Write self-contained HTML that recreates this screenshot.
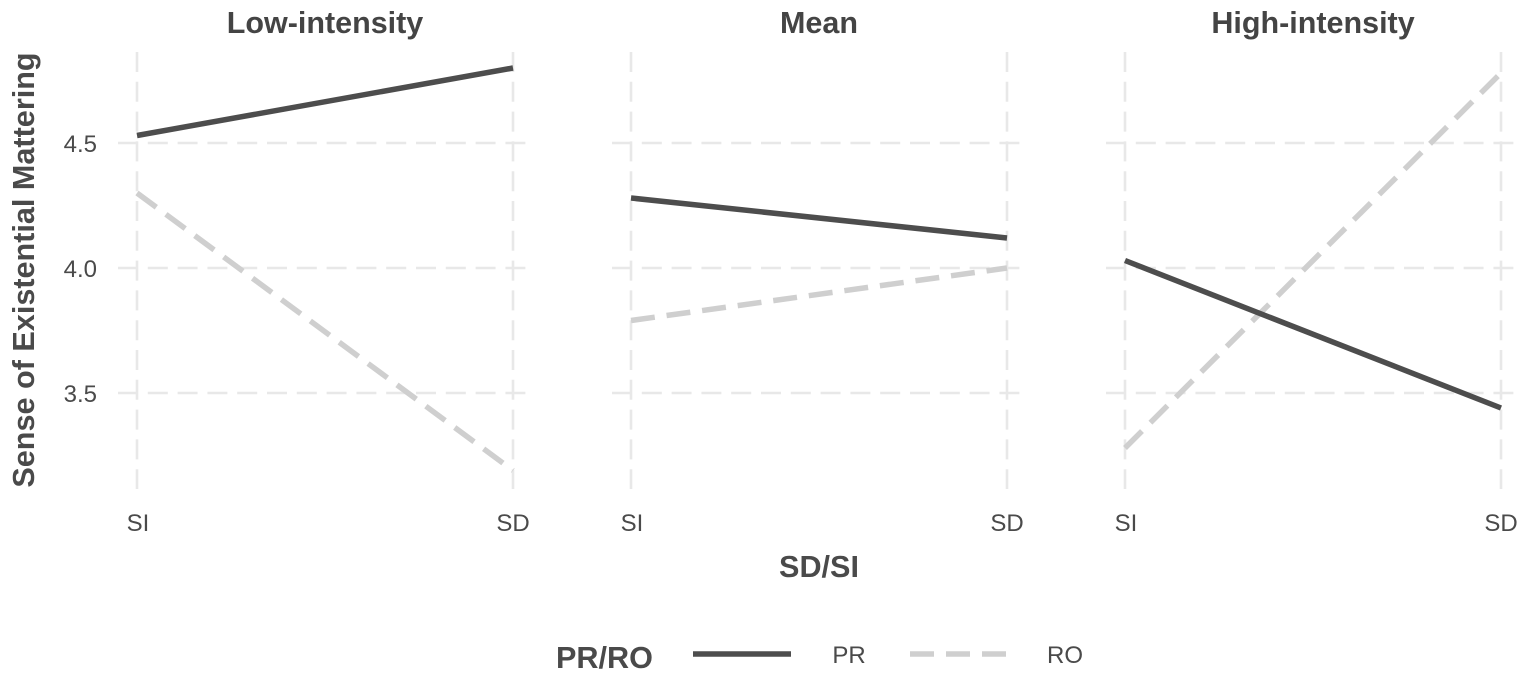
<!DOCTYPE html>
<html lang="en">
<head>
<meta charset="utf-8">
<title>Sense of Existential Mattering by SD/SI</title>
<style>
html,body{margin:0;padding:0;background:#fff;width:1535px;height:681px;overflow:hidden}
svg{display:block}
text{font-family:"Liberation Sans",sans-serif;fill:#4a4a4a}
.tick{font-size:24px}
.strip{font-size:30.5px;font-weight:bold;fill:#444}
.axt{font-size:30.6px;font-weight:bold;fill:#4a4a4a}
</style>
</head>
<body>
<svg id="chart" width="1535" height="681" viewBox="0 0 1535 681" xmlns="http://www.w3.org/2000/svg">
  <g id="grid"></g>
  <g id="marks"></g>
  <g id="labels"></g>
  <text class="axt" x="24" y="270" text-anchor="middle" dominant-baseline="central" transform="rotate(-90 24 270)">Sense of Existential Mattering</text>
  <text class="axt" x="819" y="577" text-anchor="middle">SD/SI</text>
  <g>
    <text class="axt" x="556" y="668">PR/RO</text>
    <line x1="693" y1="654" x2="791" y2="654" stroke="#4d4d4d" stroke-width="5.5"></line>
    <text class="tick" x="849" y="663" text-anchor="middle">PR</text>
    <line x1="910" y1="654" x2="1006" y2="654" stroke="#cfcfcf" stroke-width="5.5" stroke-dasharray="24 12"></line>
    <text class="tick" x="1065" y="663" text-anchor="middle">RO</text>
  </g>
</svg>
<script>
const categories = ['SI', 'SD'];
const panelNames = ['Low-intensity', 'Mean', 'High-intensity'];
const yTicks = [3.5, 4.0, 4.5];
const yTickLabels = ['3.5', '4.0', '4.5'];
const prLow = [4.53, 4.80];
const roLow = [4.30, 3.19];
const prMean = [4.28, 4.12];
const roMean = [3.79, 4.00];
const prHigh = [4.03, 3.44];
const roHigh = [3.28, 4.78];

const prSeries = [prLow, prMean, prHigh];
const roSeries = [roLow, roMean, roHigh];

const NS = 'http://www.w3.org/2000/svg';
const gridGroup = document.getElementById('grid');
const marksGroup = document.getElementById('marks');
const labelGroup = document.getElementById('labels');

function xScale(panel, catIndex) {
  return 137 + panel * 494 + 376 * catIndex / (categories.length - 1);
}
function yScale(v) {
  return 268 - (v - 4) * 250;
}
function makeLine(x1, y1, x2, y2, stroke, width, dash) {
  const l = document.createElementNS(NS, 'line');
  l.setAttribute('x1', x1);
  l.setAttribute('y1', y1);
  l.setAttribute('x2', x2);
  l.setAttribute('y2', y2);
  l.setAttribute('stroke', stroke);
  l.setAttribute('stroke-width', width);
  if (dash) l.setAttribute('stroke-dasharray', dash);
  return l;
}
function makeText(x, y, cls, anchor, str) {
  const t = document.createElementNS(NS, 'text');
  t.setAttribute('x', x);
  t.setAttribute('y', y);
  t.setAttribute('class', cls);
  t.setAttribute('text-anchor', anchor);
  t.textContent = str;
  return t;
}

panelNames.forEach(function (name, p) {
  const left = xScale(p, 0) - 19;
  const right = xScale(p, 1) + 18;

  yTicks.forEach(function (v) {
    const g = makeLine(left, yScale(v), right, yScale(v), '#e8e8e8', 2.6, '20 9.8');
    
    
    gridGroup.appendChild(g);
  });
  categories.forEach(function (c, i) {
    const g = makeLine(xScale(p, i), 52, xScale(p, i), 489, '#e8e8e8', 2.6, '20 9.8');
    
    
    gridGroup.appendChild(g);

    const t = makeText(xScale(p, i) + (i === 0 ? 1 : 0), 531, 'tick', 'middle', c);
    
    
    labelGroup.appendChild(t);
  });

  const title = makeText((xScale(p, 0) + xScale(p, 1)) / 2, 33, 'strip', 'middle', name);
  
  
  labelGroup.appendChild(title);

  const ro = makeLine(xScale(p, 0), yScale(roSeries[p][0]), xScale(p, 1), yScale(roSeries[p][1]), '#cfcfcf', 5.5, '24 11.9');
  
  
  marksGroup.appendChild(ro);

  const pr = makeLine(xScale(p, 0), yScale(prSeries[p][0]), xScale(p, 1), yScale(prSeries[p][1]), '#4d4d4d', 5.5);
  
  
  marksGroup.appendChild(pr);
});

yTicks.forEach(function (v, i) {
  const t = makeText(97, yScale(v) + 9, 'tick', 'end', yTickLabels[i]);
  
  
  labelGroup.appendChild(t);
});
</script>
</body>
</html>
